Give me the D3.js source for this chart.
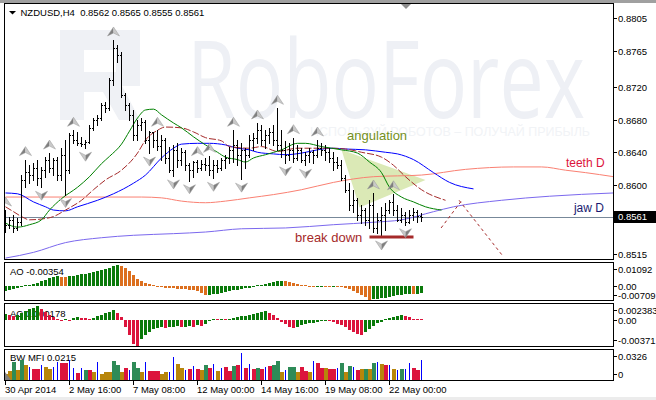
<!DOCTYPE html>
<html><head><meta charset="utf-8">
<script src="https://cdn.jsdelivr.net/npm/d3@7"></script>
<style>html,body{margin:0;padding:0;background:#fff;overflow:hidden}svg{display:block}</style>
</head><body>
<svg id="chart" width="656" height="400"></svg>
<script>
// ---------------- DATA ----------------
const titleText = "NZDUSD,H4  0.8562 0.8565 0.8555 0.8561";
const barOpen = [0.8563,0.8551,0.8557,0.8547,0.8554,0.8606,0.8616,0.8612,0.8621,0.8608,
 0.8618,0.8631,0.8621,0.8630,0.8612,0.8637,0.8618,0.8661,0.8655,0.8652,
 0.8650,0.8653,0.8670,0.8680,0.8682,0.8698,0.8694,0.8729,0.8768,0.8760,
 0.8710,0.8698,0.8686,0.8661,0.8674,0.8677,0.8655,0.8665,0.8655,0.8648,
 0.8655,0.8633,0.8618,0.8643,0.8631,0.8640,0.8624,0.8618,0.8628,0.8621,
 0.8626,0.8624,0.8618,0.8624,0.8621,0.8631,0.8633,0.8643,0.8649,0.8637,
 0.8643,0.8637,0.8655,0.8658,0.8667,0.8655,0.8661,0.8665,0.8655,0.8649,
 0.8643,0.8637,0.8643,0.8633,0.8643,0.8631,0.8637,0.8640,0.8637,0.8645,
 0.8643,0.8640,0.8633,0.8628,0.8624,0.8608,0.8594,0.8575,0.8581,0.8563,
 0.8569,0.8557,0.8575,0.8547,0.8557,0.8563,0.8569,0.8579,0.8569,0.8557,
 0.8563,0.8554,0.8563,0.8567,0.8562];
const barHigh = [0.8569,0.8561,0.8563,0.8559,0.8612,0.8631,0.8624,0.8627,0.8631,0.8622,
 0.8634,0.8639,0.8633,0.8634,0.8645,0.8655,0.8664,0.8667,0.8665,0.8659,
 0.8655,0.8674,0.8682,0.8686,0.8701,0.8702,0.8731,0.8778,0.8772,0.8763,
 0.8713,0.8701,0.8692,0.8680,0.8682,0.8680,0.8666,0.8665,0.8667,0.8661,
 0.8658,0.8647,0.8649,0.8651,0.8645,0.8643,0.8627,0.8629,0.8631,0.8630,
 0.8633,0.8635,0.8631,0.8631,0.8633,0.8637,0.8647,0.8667,0.8655,0.8651,
 0.8645,0.8661,0.8664,0.8676,0.8674,0.8667,0.8670,0.8674,0.8694,0.8667,
 0.8654,0.8651,0.8658,0.8649,0.8645,0.8640,0.8645,0.8643,0.8655,0.8651,
 0.8649,0.8645,0.8640,0.8634,0.8631,0.8612,0.8602,0.8594,0.8584,0.8575,
 0.8572,0.8581,0.8590,0.8565,0.8573,0.8578,0.8581,0.8589,0.8575,0.8572,
 0.8567,0.8569,0.8572,0.8569,0.8565];
const barLow = [0.8542,0.8547,0.8542,0.8545,0.8551,0.8597,0.8602,0.8606,0.8600,0.8597,
 0.8610,0.8616,0.8612,0.8606,0.8606,0.8588,0.8615,0.8651,0.8649,0.8648,
 0.8645,0.8651,0.8667,0.8674,0.8680,0.8690,0.8692,0.8723,0.8751,0.8708,
 0.8692,0.8680,0.8655,0.8655,0.8667,0.8651,0.8639,0.8647,0.8643,0.8631,
 0.8627,0.8616,0.8611,0.8622,0.8624,0.8618,0.8605,0.8610,0.8616,0.8618,
 0.8618,0.8612,0.8608,0.8616,0.8618,0.8621,0.8627,0.8628,0.8624,0.8607,
 0.8621,0.8634,0.8643,0.8651,0.8649,0.8645,0.8651,0.8649,0.8643,0.8634,
 0.8627,0.8631,0.8628,0.8631,0.8628,0.8624,0.8628,0.8627,0.8634,0.8637,
 0.8631,0.8628,0.8618,0.8621,0.8606,0.8591,0.8569,0.8567,0.8557,0.8553,
 0.8551,0.8547,0.8542,0.8541,0.8536,0.8545,0.8565,0.8563,0.8556,0.8554,
 0.8551,0.8553,0.8557,0.8554,0.8555];
const barClose = [0.8551,0.8557,0.8547,0.8554,0.8606,0.8616,0.8612,0.8621,0.8608,0.8618,
 0.8631,0.8621,0.8630,0.8612,0.8637,0.8618,0.8661,0.8655,0.8652,0.8650,
 0.8653,0.8670,0.8680,0.8682,0.8698,0.8694,0.8729,0.8768,0.8760,0.8710,
 0.8698,0.8686,0.8661,0.8674,0.8677,0.8655,0.8665,0.8655,0.8648,0.8655,
 0.8633,0.8618,0.8643,0.8631,0.8640,0.8624,0.8618,0.8628,0.8621,0.8626,
 0.8624,0.8618,0.8624,0.8621,0.8631,0.8633,0.8643,0.8649,0.8637,0.8643,
 0.8637,0.8655,0.8658,0.8667,0.8655,0.8661,0.8665,0.8655,0.8649,0.8643,
 0.8637,0.8643,0.8633,0.8643,0.8631,0.8637,0.8640,0.8637,0.8645,0.8643,
 0.8640,0.8633,0.8628,0.8624,0.8608,0.8594,0.8575,0.8581,0.8563,0.8569,
 0.8557,0.8575,0.8547,0.8557,0.8563,0.8569,0.8579,0.8569,0.8557,0.8563,
 0.8554,0.8563,0.8567,0.8562,0.8561];

const priceTicks = [0.8805,0.8765,0.8720,0.8680,0.8640,0.8600,0.8515];
const lastPrice = 0.8561;
const timeTickBars = [0,16,32,48,64,80,96];
const timeTickLabels = ["30 Apr 2014","2 May 16:00","7 May 08:00","12 May 00:00","14 May 16:00","19 May 08:00","22 May 00:00"];

const upFractalBars = [0,5,11,17,27,38,48,51,57,63,68,72,78,92,97];
const downFractalBars = [9,15,20,36,42,46,52,59,70,75,94,100];

// Alligator H4 (bar index, price)
const jawH4 = [[0,.8590],[3,.8589],[7,.8579],[10,.8573],[12,.8569],[15,.8568],[18,.8573],[23,.8581],[27,.8589],[32,.8602],[35,.8612],[39,.8633],[42,.8645],[44,.8650],[48,.8651],[51,.8651],[55,.8649],[58,.8645],[61,.8643],[63,.8640],[67,.8638],[70,.8637],[74,.8639],[78,.8643],[82,.8645],[85,.8644],[90,.8643],[95,.8640],[98,.8638],[102,.8631],[107,.8615],[111,.8603],[117,.8595]];
const teethH4 = [[0,.8573],[2,.8567],[4,.8561],[6,.8557],[9,.8558],[12,.8561],[15,.8569],[19,.8581],[22,.8594],[25,.8606],[29,.8618],[33,.8639],[35,.8655],[38,.8667],[40,.8671],[44,.8670],[47,.8665],[50,.8658],[54,.8654],[56,.8647],[61,.8645],[64,.8647],[68,.8641],[73,.8645],[81,.8645],[85,.8644],[89,.8640],[94,.8634],[97,.8624],[100,.8610],[104,.8594],[110,.8581]];
const lipsH4 = [[0,.8553],[3,.8548],[6,.8551],[9,.8557],[11,.8569],[14,.8583],[18,.8597],[21,.8610],[24,.8626],[26,.8635],[29,.8650],[31,.8666],[33,.8682],[35,.8692],[37,.8693],[39,.8686],[42,.8676],[44,.8670],[47,.8659],[50,.8649],[53,.8640],[55,.8634],[58,.8631],[60,.8628],[62,.8633],[65,.8637],[69,.8643],[73,.8651],[75,.8651],[79,.8647],[84,.8643],[88,.8639],[91,.8628],[94,.8615],[96,.8597],[99,.8585],[102,.8579],[105,.8573],[109,.8569]];
// Alligator D1
const teethD1 = [[0,.8585],[34,.8585],[39,.8584],[44,.8580],[50,.8578],[55,.8580],[61,.8584],[67,.8588],[74,.8594],[82,.8603],[92,.8610],[104,.8612],[115,.8619],[127,.8622],[134,.8622],[140,.8618],[145,.8615],[152,.8610]];
const jawD1 = [[0,.8510],[7,.8517],[15,.8529],[24,.8535],[32,.8538],[42,.8540],[50,.8542],[59,.8546],[70,.8547],[82,.8551],[92,.8554],[99,.8557],[107,.8567],[112,.8573],[124,.8581],[136,.8586],[152,.8590]];

const angulationZone = [[84,0.8643],[88.5,0.8572],[105,0.8606]];
const breakDown = {from:91, to:102, price:0.8536};
const forecastUp = [[108.9,0.8547],[114.1,0.8581]];
const forecastDown = [[113.4,0.8581],[124.1,0.8514]];
const annotations = [
  {text:"angulation", bar:85.4, price:0.8655, color:"#748f1c", size:13},
  {text:"break down", bar:72.4, price:0.85297, color:"#a52a2a", size:13},
  {text:"teeth D", bar:140.1, price:0.86219, color:"#dc143c", size:12},
  {text:"jaw D", bar:142.1, price:0.85666, color:"#191970", size:12}
];

const aoValues = [-0.00265,-0.00186,-0.00140,-0.00107,-0.00047,0.00023,0.00047,0.00079,0.00126,0.00200,
 0.00279,0.00358,0.00386,0.00433,0.00419,0.00396,0.00433,0.00465,0.00498,0.00526,
 0.00558,0.00591,0.00637,0.00684,0.00731,0.00777,0.00838,0.00898,0.00945,0.00898,
 0.00824,0.00665,0.00479,0.00326,0.00200,0.00126,0.00079,0.00014,-0.00047,-0.00079,
 -0.00093,-0.00107,-0.00126,-0.00140,-0.00154,-0.00172,-0.00186,-0.00219,-0.00265,-0.00326,
 -0.00433,-0.00419,-0.00396,-0.00372,-0.00340,-0.00302,-0.00265,-0.00219,-0.00186,-0.00154,
 -0.00126,-0.00093,-0.00047,0.00003,0.00047,0.00093,0.00140,0.00186,0.00219,0.00233,
 0.00200,0.00154,0.00107,0.00060,0.00023,0.00014,-0.00014,-0.00023,-0.00014,-0.00009,
 -0.00014,-0.00023,-0.00018,-0.00030,-0.00047,-0.00093,-0.00163,-0.00233,-0.00326,-0.00419,
 -0.00512,-0.00651,-0.00637,-0.00605,-0.00582,-0.00558,-0.00520,-0.00480,-0.00440,-0.00415,
 -0.00392,-0.00370,-0.00385,-0.00368,-0.00354];
const aoRange = [-0.00709, 0.01092];
const aoTickLabels = ["0.01092","0.00","-0.00709"];
const aoLabel = "AO -0.00354";

const acValues = [0.00084,0.00070,0.00056,0.00070,0.00098,0.00126,0.00154,0.00168,0.00197,0.00154,
 0.00112,0.00070,0.00042,0.00014,-0.00007,0.00004,-0.00004,0.00028,0.00042,0.00035,
 0.00028,0.00024,0.00035,0.00056,0.00074,0.00098,0.00119,0.00140,0.00098,0.00042,
 -0.00094,-0.00211,-0.00327,-0.00361,-0.00257,-0.00211,-0.00164,-0.00126,-0.00108,-0.00094,
 -0.00108,-0.00094,-0.00088,-0.00084,-0.00094,-0.00088,-0.00084,-0.00094,-0.00070,-0.00074,
 -0.00046,-0.00014,0.00010,0.00007,0.00014,0.00010,0.00018,0.00028,0.00042,0.00056,
 0.00060,0.00070,0.00084,0.00098,0.00112,0.00126,0.00102,0.00070,0.00032,-0.00018,
 -0.00056,-0.00091,-0.00112,-0.00091,-0.00070,-0.00052,-0.00042,-0.00032,-0.00018,-0.00007,
 -0.00004,-0.00007,-0.00024,-0.00046,-0.00070,-0.00098,-0.00131,-0.00164,-0.00187,-0.00201,
 -0.00168,-0.00122,-0.00074,-0.00042,-0.00024,0.00018,0.00032,0.00052,0.00066,0.00080,
 0.00056,0.00042,0.00024,0.00021,0.000178];
const acRange = [-0.00371, 0.002383];
const acTickLabels = ["0.002383","0.00","-0.00371"];
const acLabel = "AC 0.000178";

const mfiValues = [0.0064,0.0096,0.0191,0.0106,0.0212,0.0159,0.0138,0.0117,0.0117,0.0159,
 0.0138,0.0117,0.0138,0.0191,0.0181,0.0181,0.0212,0.0127,0.0074,0.0127,
 0.0106,0.0106,0.0085,0.0191,0.0064,0.0085,0.0085,0.0202,0.0159,0.0085,
 0.0127,0.0106,0.0191,0.0127,0.0085,0.0191,0.0096,0.0096,0.0096,0.0064,
 0.0085,0.0085,0.0244,0.0170,0.0127,0.0106,0.0117,0.0149,0.0117,0.0106,
 0.0159,0.0127,0.0170,0.0096,0.0127,0.0138,0.0096,0.0149,0.0159,0.0287,
 0.0127,0.0170,0.0117,0.0127,0.0117,0.0138,0.0149,0.0159,0.0202,0.0085,
 0.0106,0.0138,0.0138,0.0085,0.0138,0.0096,0.0085,0.0202,0.0181,0.0127,
 0.0127,0.0117,0.0117,0.0127,0.0181,0.0085,0.0149,0.0138,0.0106,0.0117,
 0.0117,0.0117,0.0181,0.0191,0.0170,0.0159,0.0159,0.0117,0.0106,0.0117,
 0.0117,0.0181,0.0127,0.0106,0.0215];
const mfiStates = ["o","o","g","o","g","o","b","r","r","b",
 "o","o","b","b","r","r","b","b","r","b",
 "g","r","o","b","o","o","o","g","g","o",
 "r","b","g","g","o","b","r","r","r","o",
 "o","b","b","o","o","b","r","b","r","o",
 "g","r","b","o","b","r","r","g","r","b",
 "r","b","r","g","r","b","r","g","g","o",
 "b","g","g","o","r","r","o","b","r","r",
 "o","r","r","b","g","o","g","b","r","o",
 "g","o","g","b","o","r","b","o","b","g",
 "b","b","r","r","b"];
const mfiRange = [0, 0.0326];
const mfiTickLabels = ["0.0326","0"];
const mfiLabel = "BW MFI 0.0215";

// ---------------- DRAW ----------------
const FONT = "'Liberation Sans', Arial, Helvetica, sans-serif";
const svg = d3.select("#chart");
const N = barClose.length;
const xBar = d3.scaleLinear().domain([0, N-1]).range([5.5, 421.5]);
const yPrice = d3.scaleLinear().domain([0.8515, 0.8805]).range([254, 18]);
const yAO = d3.scaleLinear().domain(aoRange).range([301, 262.3]);
const yAC = d3.scaleLinear().domain(acRange).range([346.7, 303.3]);
const yMFI = d3.scaleLinear().domain(mfiRange).range([380, 349.3]);
const px = i => Math.floor(xBar(i));
const R = Math.round;

svg.append("rect").attr("width",656).attr("height",400).attr("fill","#fff");
svg.append("rect").attr("width",656).attr("height",3).attr("fill","#a0a0a0");
svg.append("rect").attr("y",397).attr("width",656).attr("height",3).attr("fill","#ececec");

const defs = svg.append("defs");
const clip = (id,x,y,w,h)=>defs.append("clipPath").attr("id",id).append("rect").attr("x",x).attr("y",y).attr("width",w).attr("height",h);
clip("cMain",5,4,608,255); clip("cAO",5,263,608,37); clip("cAC",5,304,608,42); clip("cMFI",5,350,608,30);

// watermark
const wm = svg.append("g").attr("clip-path","url(#cMain)");
wm.append("path").attr("d","M60,30 H140 V86 H122 L140,120 H119 L103,92 H84 V120 H60 Z M84,50 V72 H116 V50 Z")
  .attr("fill-rule","evenodd").attr("fill","#eff1f5");
wm.append("text").attr("x",187).attr("y",118).attr("font-family","'Open Sans', sans-serif").attr("font-size",108)
  .attr("fill","#eef0f5").attr("textLength",398).attr("lengthAdjust","spacingAndGlyphs").text("RoboForex");
wm.append("text").attr("x",310).attr("y",136).attr("font-family",FONT).attr("font-size",12)
  .attr("fill","#f1f3f6").attr("textLength",280).attr("lengthAdjust","spacingAndGlyphs").text("ИСПОЛЬЗУЙ РОБОТОВ – ПОЛУЧАЙ ПРИБЫЛЬ");

const gm = svg.append("g").attr("clip-path","url(#cMain)");
// angulation zone
gm.append("polygon").attr("points", angulationZone.map(d=>[xBar(d[0]),yPrice(d[1])].join(",")).join(" "))
  .attr("fill","#dbe9b6");
// bid line
gm.append("line").attr("x1",5).attr("x2",613).attr("y1",R(yPrice(lastPrice))+0.5).attr("y2",R(yPrice(lastPrice))+0.5)
  .attr("stroke","#778899").attr("stroke-width",1);

const line = d3.line().x(d=>xBar(d[0])).y(d=>yPrice(d[1])).curve(d3.curveMonotoneX);
const drawLine=(data,color,dash)=>gm.append("path").attr("d",line(data)).attr("fill","none").attr("stroke",color).attr("stroke-width",1).attr("stroke-dasharray",dash||null);
drawLine(jawD1,"#7b68ee");
drawLine(teethD1,"#fa8072");
drawLine(jawH4,"#0000ff");
drawLine(teethH4,"#a52a2a","7,2");
drawLine(lipsH4,"#008000");
const sline = d3.line().x(d=>xBar(d[0])).y(d=>yPrice(d[1]));
gm.append("path").attr("d",sline(forecastUp)).attr("stroke","#a52a2a").attr("stroke-dasharray","3,3").attr("fill","none");
gm.append("path").attr("d",sline(forecastDown)).attr("stroke","#a52a2a").attr("stroke-dasharray","3,3").attr("fill","none");

// OHLC bars
const gb = gm.append("g").attr("fill","#000");
for(let i=0;i<N;i++){
  const cx=px(i), yh=R(yPrice(barHigh[i])), yl=R(yPrice(barLow[i]));
  gb.append("rect").attr("x",cx).attr("y",yh).attr("width",1).attr("height",Math.max(1,yl-yh+1));
  gb.append("rect").attr("x",cx-1).attr("y",R(yPrice(barOpen[i]))).attr("width",1).attr("height",1);
  gb.append("rect").attr("x",cx+1).attr("y",R(yPrice(barClose[i]))).attr("width",1).attr("height",1);
}
// break down level
gm.append("line").attr("x1",xBar(breakDown.from)).attr("x2",xBar(breakDown.to))
  .attr("y1",yPrice(breakDown.price)).attr("y2",yPrice(breakDown.price)).attr("stroke","#a52a2a").attr("stroke-width",3);

// fractals
function arrow(cx,yb,up){
  const s = up?-1:1;
  const g = gm.append("g").attr("transform",`translate(${cx},${yb})`);
  g.append("path").attr("d",`M0,${s*13} L-6,${s*4} L0,${s*7} Z`).attr("fill",up?"#7f7f7f":"#c9c9c9");
  g.append("path").attr("d",`M0,${s*13} L6,${s*4} L0,${s*7} Z`).attr("fill",up?"#c9c9c9":"#7f7f7f");
  g.append("path").attr("d",`M0,${s*13} L-6,${s*4} L0,${s*7} L6,${s*4} Z`).attr("fill","none").attr("stroke","#9a9a9a").attr("stroke-width",0.5);
}
upFractalBars.forEach(i=>arrow(px(i)+0.5, yPrice(barHigh[i]), true));
downFractalBars.forEach(i=>arrow(px(i)+0.5, yPrice(barLow[i]), false));

// annotations
annotations.forEach(a=>gm.append("text").attr("x",xBar(a.bar)).attr("y",yPrice(a.price)).attr("font-family",FONT)
  .attr("font-size",a.size).attr("fill",a.color).text(a.text));

// title
svg.append("path").attr("d","M9,11 H16 L12.5,14.5 Z").attr("fill","#000");
svg.append("text").attr("x",20.5).attr("y",16).attr("font-family",FONT).attr("font-size",9.5).attr("fill","#000")
  .attr("xml:space","preserve").style("white-space","pre").text(titleText);

// sub panels
function histo(values, yS, clipId, label, labelY, colorFn, width){
  const g = svg.append("g").attr("clip-path",`url(#${clipId})`);
  g.append("text").attr("x",10).attr("y",labelY).attr("font-family",FONT).attr("font-size",9.5).attr("fill","#000").text(label);
  const y0 = R(yS(0));
  values.forEach((v,i)=>{
    const yv = R(yS(v));
    let top = Math.min(yv,y0), h = Math.abs(yv-y0);
    if(h<1){h=1; top = v>=0? y0-1 : y0;}
    g.append("rect").attr("x",px(i)-1).attr("y",top).attr("width",width).attr("height",h).attr("fill",colorFn(v,i));
  });
}
histo(aoValues,yAO,"cAO",aoLabel,274.5,(v,i)=> (i===0||v>=aoValues[i-1])?"#0a7a0a":"#dc6f1e",3);
histo(acValues,yAC,"cAC",acLabel,316.5,(v,i)=> (i===0||v>=acValues[i-1])?"#0a7a0a":"#dc143c",3);

// MFI
const mfiColor = {g:"#2e8b57", b:"#0000ff", r:"#dc143c", o:"#b8860b"};
const gmfi = svg.append("g").attr("clip-path","url(#cMFI)");
gmfi.append("text").attr("x",10).attr("y",361).attr("font-family",FONT).attr("font-size",9.5).attr("fill","#000").text(mfiLabel);
mfiValues.forEach((v,i)=>{
  const st = mfiStates[i], yv=R(yMFI(v)), y0=380;
  if(st==="b") gmfi.append("rect").attr("x",px(i)).attr("y",yv).attr("width",1).attr("height",y0-yv).attr("fill",mfiColor.b);
  else gmfi.append("rect").attr("x",px(i)-1).attr("y",yv).attr("width",4).attr("height",y0-yv).attr("fill",mfiColor[st]);
});
svg.append("path").attr("d","M5,372 V380 H11 Z").attr("fill","#808080");

// frames
[[3.5,259.5],[262.5,300.5],[303.5,346.5],[349.5,380.5]].forEach(([t,b])=>
  svg.append("rect").attr("x",4.5).attr("y",t).attr("width",609).attr("height",b-t).attr("fill","none").attr("stroke","#000"));
svg.append("path").attr("d","M401,4 H411 L406,9 Z").attr("fill","#8c8c8c");

// right axis - price
const ax = svg.append("g").attr("font-family",FONT).attr("font-size",9.5).attr("fill","#000");
priceTicks.forEach(p=>{
  const y=R(yPrice(p))+0.5;
  ax.append("line").attr("x1",613).attr("x2",617).attr("y1",y).attr("y2",y).attr("stroke","#000");
  ax.append("text").attr("x",618).attr("y",y).attr("dy","0.35em").text(p.toFixed(4));
});
const ly = R(yPrice(lastPrice));
ax.append("rect").attr("x",614).attr("y",ly-6).attr("width",42).attr("height",12).attr("fill","#000");
ax.append("text").attr("x",618).attr("y",ly).attr("dy","0.35em").attr("fill","#fff").text(lastPrice.toFixed(4));

// right axis - sub panels
function subAxis(yS, range, labels){
  const pos = [yS(range[1])+7, yS(0), yS(range[0])-6.5];
  const ys = labels.length===3? pos : [pos[0], pos[2]];
  labels.forEach((t,k)=>{
    const y=R(ys[k])+0.5;
    ax.append("line").attr("x1",613).attr("x2",617).attr("y1",y).attr("y2",y).attr("stroke","#000");
    ax.append("text").attr("x",618).attr("y",y).attr("dy","0.35em").text(t);
  });
}
subAxis(yAO,aoRange,aoTickLabels);
subAxis(yAC,acRange,acTickLabels);
subAxis(yMFI,mfiRange,mfiTickLabels);

// time axis
timeTickBars.forEach((b,k)=>{
  const x=px(b)+0.5;
  ax.append("line").attr("x1",x).attr("x2",x).attr("y1",380.5).attr("y2",385).attr("stroke","#000");
  ax.append("text").attr("x",x-0.5).attr("y",392.5).text(timeTickLabels[k]);
});
</script>
</body></html>
